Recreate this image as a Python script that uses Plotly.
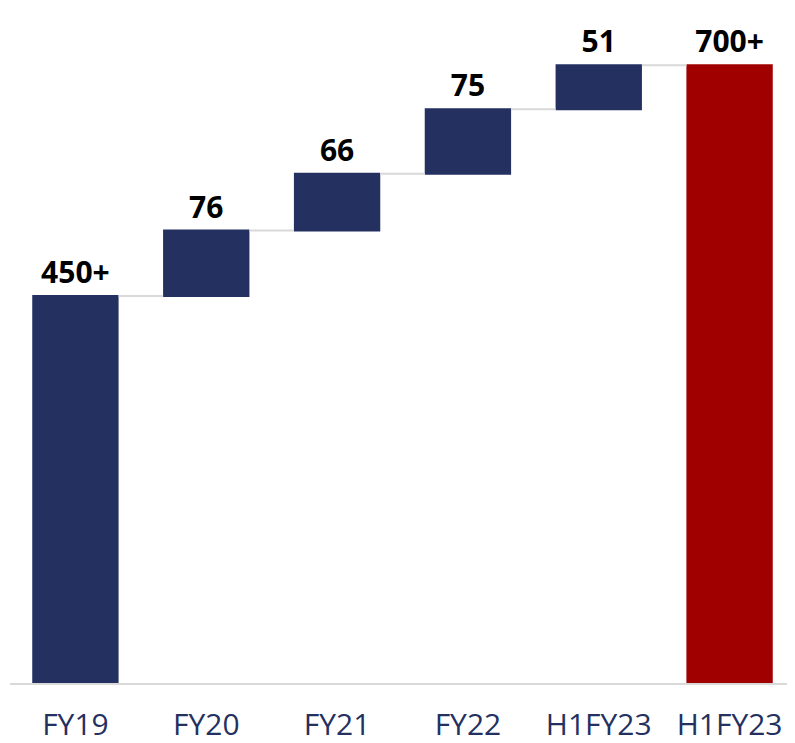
import plotly.graph_objects as go

categories = ["FY19", "FY20", "FY21", "FY22", "H1FY23", "H1FY23"]
values = [450, 76, 66, 75, 51, 718]
measures = ["relative", "relative", "relative", "relative", "relative", "total"]
labels = ["450+", "76", "66", "75", "51", "700+"]

positions = list(range(len(categories)))

fig = go.Figure(go.Waterfall(
    x=positions,
    y=values,
    measure=measures,
    text=labels,
    textposition="outside",
    textfont=dict(family="Open Sans", size=30, color="black", weight="bold"),
    increasing=dict(marker=dict(color="#243160")),
    totals=dict(marker=dict(color="#a00000")),
    connector=dict(line=dict(color="#d9d9d9", width=2)),
    cliponaxis=False,
    hoverinfo="skip",
))

# page body adds an 8px offset, so margins are shifted to compensate
fig.update_layout(
    width=795, height=743,
    margin=dict(l=2, r=8, t=4, b=68),
    plot_bgcolor="white", paper_bgcolor="white",
    waterfallgap=0.34,
    showlegend=False,
)
fig.update_xaxes(
    tickvals=positions, ticktext=categories,
    tickfont=dict(family="Open Sans", size=30, color="#243160"),
    showline=True, linecolor="#d9d9d9", linewidth=2,
    showgrid=False, ticks="", range=[-0.5, 5.5],
    ticklabelstandoff=14,
)
fig.update_yaxes(range=[0, 780], visible=False, showgrid=False)

fig.write_html("out.html")
